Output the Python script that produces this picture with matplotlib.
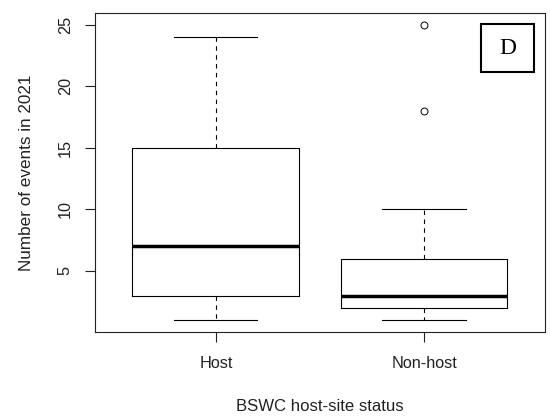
import matplotlib
matplotlib.use("Agg")
import matplotlib.pyplot as plt
from matplotlib.patches import Rectangle

# Summary statistics per host-site group
groups = ["Host", "Non-host"]
whisker_low = [1, 1]
quartile_1 = [3, 2]
medians = [7, 3]
quartile_3 = [15, 6]
whisker_high = [24, 10]
outliers = [[], [18, 25]]

y_ticks = [5, 10, 15, 20, 25]
panel_label = "D"

plt.rcParams["font.family"] = ["Liberation Sans", "DejaVu Sans"]
text_color = "#222222"

fig = plt.figure(figsize=(5.5, 4.18), dpi=100)
ax = fig.add_axes([0.1727, 0.2057, 0.8182, 0.7632])

stats = []
for i, name in enumerate(groups):
    stats.append(dict(label=name, whislo=whisker_low[i], q1=quartile_1[i],
                      med=medians[i], q3=quartile_3[i], whishi=whisker_high[i],
                      fliers=outliers[i]))

lw = 0.8
ax.bxp(stats, positions=[1, 2], widths=0.8, showfliers=True,
       boxprops=dict(color="black", linewidth=lw),
       medianprops=dict(color="black", linewidth=2.5, solid_capstyle="butt"),
       whiskerprops=dict(color="black", linewidth=lw, linestyle=(0, (4, 4))),
       capprops=dict(color="black", linewidth=lw),
       capwidths=0.4,
       flierprops=dict(marker="o", markersize=5, markerfacecolor="none",
                       markeredgecolor="black", markeredgewidth=0.7))

ax.set_xlim(0.42, 2.58)
ax.set_ylim(0.04, 25.96)
ax.set_yticks(y_ticks)
ax.set_yticklabels([str(t) for t in y_ticks])
ax.set_xticks([1, 2])
ax.set_xticklabels(groups)

for s in ax.spines.values():
    s.set_linewidth(lw)
    s.set_color(text_color)

ax.tick_params(axis="y", length=7, width=lw, pad=9, labelsize=11.7,
               labelrotation=90, colors=text_color)
ax.tick_params(axis="x", length=7.5, width=lw, pad=10, labelsize=11.7,
               colors=text_color)
for lab in ax.get_yticklabels():
    lab.set_va("center")

ax.set_ylabel("Number of events in 2021", fontsize=12.3, color=text_color)
ax.set_xlabel("BSWC host-site status", fontsize=12.1, color=text_color)
ax.yaxis.set_label_coords(-0.135, 0.5)
ax.xaxis.set_label_coords(0.5, -0.21)

# Panel label box in the top-right corner
ax.add_patch(Rectangle((0.858, 0.815), 0.1178, 0.1505, transform=ax.transAxes,
                       fill=False, edgecolor="black", linewidth=1.5,
                       clip_on=False))
ax.text(0.858 + 0.1178 / 2, 0.815 + 0.1505 / 2, panel_label,
        transform=ax.transAxes, ha="center", va="center",
        fontsize=17, family=["Liberation Serif", "DejaVu Serif"])

fig.savefig("out.png", dpi=100)
